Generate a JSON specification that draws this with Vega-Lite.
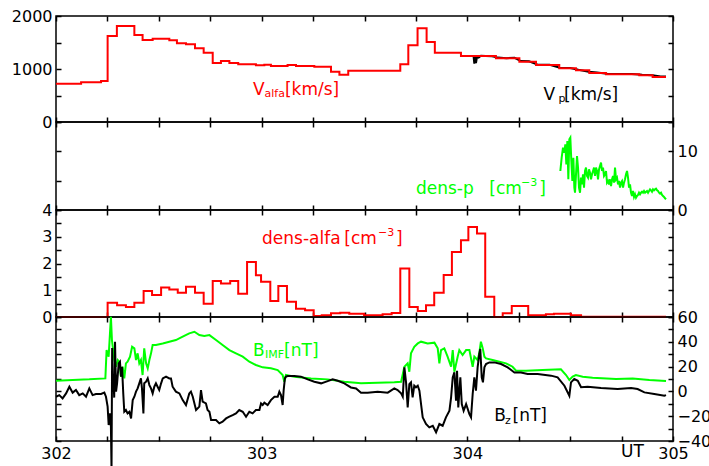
{
  "$schema": "https://vega.github.io/schema/vega-lite/v6.json",
  "background": "white",
  "padding": {"left": 10, "top": 7, "right": 0, "bottom": 0},
  "spacing": 0,
  "bounds": "flush",
  "config": {
    "view": {"stroke": "black", "strokeWidth": 1.5},
    "axis": {
      "domain": false, "grid": false, "title": null,
      "tickColor": "black", "tickWidth": 1.5, "tickSize": -5,
      "labelFont": "DejaVu Sans", "labelFontSize": 16, "labelColor": "black",
      "labelPadding": 9, "labelOverlap": false, "labelFlush": false, "labelBound": false
    },
    "text": {"font": "DejaVu Sans"}
  },
  "datasets": {
    "valfa": [
      {"t":302.000,"v":723},{"t":302.122,"v":752},{"t":302.219,"v":775},{"t":302.251,"v":1623},
      {"t":302.296,"v":1811},{"t":302.381,"v":1642},{"t":302.421,"v":1547},{"t":302.470,"v":1572},
      {"t":302.551,"v":1541},{"t":302.588,"v":1485},{"t":302.632,"v":1466},{"t":302.676,"v":1390},
      {"t":302.718,"v":1308},{"t":302.762,"v":1113},{"t":302.802,"v":1151},{"t":302.843,"v":1113},
      {"t":302.886,"v":1089},{"t":302.972,"v":1070},{"t":303.013,"v":1082},{"t":303.045,"v":1057},
      {"t":303.126,"v":1075},{"t":303.167,"v":1057},{"t":303.256,"v":1044},{"t":303.337,"v":950},
      {"t":303.378,"v":893},{"t":303.421,"v":968},{"t":303.674,"v":1089},{"t":303.713,"v":1447},
      {"t":303.758,"v":1768},{"t":303.802,"v":1510},{"t":303.842,"v":1308},{"t":303.969,"v":1245},
      {"t":304.139,"v":1201},{"t":304.253,"v":1138},{"t":304.334,"v":1075},{"t":304.447,"v":1013},
      {"t":304.528,"v":975},{"t":304.593,"v":925},{"t":304.674,"v":900},{"t":304.836,"v":881},
      {"t":304.901,"v":849},{"t":304.966,"v":849}
    ],
    "vp": [
      {"t":304.030,"v":1250},{"t":304.034,"v":1100},{"t":304.038,"v":1235},{"t":304.042,"v":1110},
      {"t":304.047,"v":1230},{"t":304.055,"v":1215},{"t":304.066,"v":1250},{"t":304.090,"v":1245},
      {"t":304.120,"v":1240},{"t":304.150,"v":1215},{"t":304.190,"v":1205},{"t":304.230,"v":1210},
      {"t":304.260,"v":1150},{"t":304.300,"v":1145},{"t":304.340,"v":1085},{"t":304.400,"v":1080},
      {"t":304.450,"v":1025},{"t":304.500,"v":1020},{"t":304.540,"v":985},{"t":304.590,"v":950},
      {"t":304.630,"v":935},{"t":304.680,"v":910},{"t":304.740,"v":905},{"t":304.800,"v":905},
      {"t":304.850,"v":890},{"t":304.900,"v":880},{"t":304.940,"v":858},{"t":304.966,"v":860}
    ],
    "np": [
      {"t":304.4522,"v":6.65},{"t":304.4587,"v":8.92},{"t":304.4652,"v":10.62},{"t":304.4717,"v":9.77},
      {"t":304.4765,"v":11.19},{"t":304.4814,"v":7.78},{"t":304.4863,"v":11.76},{"t":304.4911,"v":5.23},
      {"t":304.4960,"v":12.04},{"t":304.5008,"v":12.33},{"t":304.5057,"v":8.35},{"t":304.5106,"v":4.94},
      {"t":304.5155,"v":8.92},{"t":304.5203,"v":3.81},{"t":304.5236,"v":2.95},{"t":304.5284,"v":6.08},
      {"t":304.5333,"v":9.20},{"t":304.5382,"v":7.22},{"t":304.5430,"v":3.81},{"t":304.5479,"v":2.95},
      {"t":304.5527,"v":5.51},{"t":304.5576,"v":4.37},{"t":304.5625,"v":6.08},{"t":304.5673,"v":3.81},
      {"t":304.5722,"v":6.65},{"t":304.5770,"v":7.22},{"t":304.5819,"v":5.80},{"t":304.5868,"v":5.51},
      {"t":304.5916,"v":6.93},{"t":304.5965,"v":6.36},{"t":304.6014,"v":5.23},{"t":304.6062,"v":6.08},
      {"t":304.6111,"v":6.65},{"t":304.6160,"v":7.22},{"t":304.6208,"v":5.80},{"t":304.6257,"v":7.22},
      {"t":304.6306,"v":6.65},{"t":304.6354,"v":5.23},{"t":304.6403,"v":6.93},{"t":304.6451,"v":7.50},
      {"t":304.6500,"v":8.07},{"t":304.6549,"v":6.65},{"t":304.6597,"v":7.22},{"t":304.6646,"v":5.80},
      {"t":304.6695,"v":6.08},{"t":304.6743,"v":6.65},{"t":304.6792,"v":4.66},{"t":304.6840,"v":4.94},
      {"t":304.6889,"v":4.37},{"t":304.6938,"v":5.23},{"t":304.6986,"v":4.09},{"t":304.7035,"v":5.23},
      {"t":304.7084,"v":5.80},{"t":304.7132,"v":4.66},{"t":304.7181,"v":7.22},{"t":304.7230,"v":5.23},
      {"t":304.7278,"v":5.51},{"t":304.7327,"v":4.37},{"t":304.7375,"v":4.94},{"t":304.7424,"v":3.81},
      {"t":304.7473,"v":4.66},{"t":304.7521,"v":4.94},{"t":304.7570,"v":3.81},{"t":304.7619,"v":4.66},
      {"t":304.7667,"v":5.23},{"t":304.7716,"v":6.08},{"t":304.7765,"v":6.65},{"t":304.7813,"v":5.51},
      {"t":304.7862,"v":3.81},{"t":304.7910,"v":4.37},{"t":304.7959,"v":2.95},{"t":304.8008,"v":2.39},
      {"t":304.8056,"v":3.24},{"t":304.8105,"v":2.22},{"t":304.8154,"v":2.67},{"t":304.8202,"v":2.10},
      {"t":304.8251,"v":2.39},{"t":304.8300,"v":2.56},{"t":304.8348,"v":2.95},{"t":304.8397,"v":2.67},
      {"t":304.8445,"v":2.95},{"t":304.8494,"v":3.12},{"t":304.8543,"v":2.95},{"t":304.8591,"v":3.24},
      {"t":304.8640,"v":2.95},{"t":304.8689,"v":3.12},{"t":304.8737,"v":3.24},{"t":304.8786,"v":2.95},
      {"t":304.8835,"v":3.24},{"t":304.8883,"v":3.52},{"t":304.8932,"v":3.35},{"t":304.8980,"v":3.12},
      {"t":304.9029,"v":3.52},{"t":304.9078,"v":3.35},{"t":304.9126,"v":3.52},{"t":304.9175,"v":3.64},
      {"t":304.9224,"v":3.35},{"t":304.9272,"v":3.24},{"t":304.9321,"v":2.95},{"t":304.9370,"v":2.78},
      {"t":304.9418,"v":2.95},{"t":304.9467,"v":2.56},{"t":304.9515,"v":2.39},{"t":304.9564,"v":2.22},
      {"t":304.9613,"v":1.99},{"t":304.9661,"v":1.82}
    ],
    "nalfa": [
      {"t":302.000,"v":0},{"t":302.251,"v":0.53},{"t":302.297,"v":0.44},{"t":302.340,"v":0.37},
      {"t":302.381,"v":0.53},{"t":302.426,"v":0.97},{"t":302.467,"v":0.82},{"t":302.511,"v":1.10},
      {"t":302.551,"v":1.03},{"t":302.592,"v":0.91},{"t":302.632,"v":1.13},{"t":302.676,"v":0.91},
      {"t":302.718,"v":0.50},{"t":302.762,"v":1.35},{"t":302.802,"v":1.25},{"t":302.847,"v":1.35},
      {"t":302.886,"v":0.87},{"t":302.929,"v":2.06},{"t":302.972,"v":1.56},{"t":302.997,"v":1.32},
      {"t":303.042,"v":0.60},{"t":303.081,"v":1.16},{"t":303.123,"v":0.57},{"t":303.167,"v":0.31},
      {"t":303.211,"v":0.25},{"t":303.253,"v":0.04},{"t":303.292,"v":0.07},{"t":303.337,"v":0.14},
      {"t":303.382,"v":0.16},{"t":303.426,"v":0.12},{"t":303.498,"v":0.07},{"t":303.588,"v":0.10},
      {"t":303.632,"v":0.15},{"t":303.674,"v":1.81},{"t":303.718,"v":0.37},{"t":303.759,"v":0.22},
      {"t":303.799,"v":0.44},{"t":303.839,"v":0.91},{"t":303.885,"v":1.57},{"t":303.925,"v":2.43},
      {"t":303.969,"v":2.87},{"t":304.005,"v":3.36},{"t":304.047,"v":3.12},{"t":304.087,"v":0.76},
      {"t":304.131,"v":0.0},{"t":304.172,"v":0.14},{"t":304.216,"v":0.41},{"t":304.296,"v":0.07},
      {"t":304.382,"v":0.10},{"t":304.421,"v":0.12},{"t":304.504,"v":0.07},{"t":304.553,"v":0.01},
      {"t":304.966,"v":0.01}
    ],
    "bimf": [
      {"t":302.000,"v":8.6},{"t":302.081,"v":9.2},{"t":302.162,"v":9.7},{"t":302.240,"v":10.5},
      {"t":302.246,"v":33.4},{"t":302.256,"v":28.0},{"t":302.267,"v":60.2},{"t":302.272,"v":41.4},
      {"t":302.284,"v":25.3},{"t":302.292,"v":19.9},{"t":302.300,"v":25.3},{"t":302.308,"v":23.9},
      {"t":302.316,"v":11.9},{"t":302.324,"v":19.9},{"t":302.332,"v":10.5},{"t":302.340,"v":22.6},
      {"t":302.348,"v":23.9},{"t":302.360,"v":28.0},{"t":302.370,"v":36.0},{"t":302.381,"v":34.7},
      {"t":302.389,"v":25.3},{"t":302.397,"v":30.7},{"t":302.405,"v":22.6},{"t":302.413,"v":25.3},
      {"t":302.421,"v":13.2},{"t":302.429,"v":34.7},{"t":302.438,"v":22.6},{"t":302.446,"v":18.6},
      {"t":302.454,"v":25.3},{"t":302.462,"v":30.7},{"t":302.470,"v":37.4},{"t":302.486,"v":37.4},
      {"t":302.519,"v":38.7},{"t":302.551,"v":40.1},{"t":302.583,"v":41.4},{"t":302.616,"v":44.1},
      {"t":302.648,"v":46.8},{"t":302.673,"v":48.1},{"t":302.697,"v":45.4},{"t":302.721,"v":44.6},
      {"t":302.746,"v":45.4},{"t":302.778,"v":41.4},{"t":302.810,"v":37.4},{"t":302.843,"v":33.3},
      {"t":302.875,"v":30.7},{"t":302.908,"v":28.0},{"t":302.940,"v":23.9},{"t":302.972,"v":21.3},
      {"t":303.005,"v":19.4},{"t":303.045,"v":18.6},{"t":303.078,"v":17.2},{"t":303.102,"v":13.2},
      {"t":303.110,"v":7.8},{"t":303.118,"v":13.2},{"t":303.159,"v":11.9},{"t":303.240,"v":10.5},
      {"t":303.321,"v":9.7},{"t":303.402,"v":7.8},{"t":303.483,"v":6.5},{"t":303.564,"v":7.0},
      {"t":303.645,"v":7.3},{"t":303.678,"v":7.8},{"t":303.694,"v":19.9},{"t":303.710,"v":22.6},
      {"t":303.718,"v":15.9},{"t":303.726,"v":30.7},{"t":303.742,"v":36.0},{"t":303.759,"v":38.7},
      {"t":303.775,"v":40.1},{"t":303.807,"v":38.7},{"t":303.840,"v":39.3},{"t":303.856,"v":34.7},
      {"t":303.864,"v":22.6},{"t":303.872,"v":33.3},{"t":303.888,"v":34.7},{"t":303.904,"v":28.0},
      {"t":303.921,"v":19.9},{"t":303.929,"v":33.3},{"t":303.937,"v":15.9},{"t":303.953,"v":28.0},
      {"t":303.961,"v":33.3},{"t":303.977,"v":29.3},{"t":303.994,"v":33.3},{"t":304.010,"v":33.3},
      {"t":304.026,"v":19.9},{"t":304.034,"v":28.0},{"t":304.050,"v":25.3},{"t":304.058,"v":30.7},
      {"t":304.066,"v":40.1},{"t":304.075,"v":34.7},{"t":304.083,"v":28.0},{"t":304.091,"v":26.6},
      {"t":304.123,"v":25.3},{"t":304.156,"v":23.9},{"t":304.188,"v":22.6},{"t":304.220,"v":19.9},
      {"t":304.237,"v":16.7},{"t":304.285,"v":16.7},{"t":304.366,"v":17.2},{"t":304.455,"v":17.8},
      {"t":304.480,"v":13.2},{"t":304.496,"v":9.2},{"t":304.512,"v":11.9},{"t":304.528,"v":13.2},
      {"t":304.561,"v":11.9},{"t":304.609,"v":11.0},{"t":304.723,"v":10.0},{"t":304.804,"v":10.5},
      {"t":304.885,"v":9.2},{"t":304.966,"v":8.4}
    ],
    "bz": [
      {"t":302.000,"v":-4.3},{"t":302.016,"v":-3.0},{"t":302.032,"v":-5.6},{"t":302.049,"v":-1.6},
      {"t":302.065,"v":3.8},{"t":302.081,"v":-1.0},{"t":302.097,"v":1.1},{"t":302.113,"v":-3.0},
      {"t":302.130,"v":-1.6},{"t":302.146,"v":-4.3},{"t":302.162,"v":2.4},{"t":302.178,"v":-3.0},
      {"t":302.194,"v":-2.1},{"t":302.219,"v":-2.1},{"t":302.235,"v":-1.0},{"t":302.243,"v":-4.3},
      {"t":302.251,"v":-12.3},{"t":302.256,"v":-27.1},{"t":302.263,"v":-17.7},{"t":302.267,"v":-28.5},
      {"t":302.270,"v":-63},{"t":302.273,"v":35},{"t":302.276,"v":0},{"t":302.279,"v":11.9},
      {"t":302.283,"v":-5},{"t":302.287,"v":40.1},{"t":302.292,"v":-0.2},{"t":302.297,"v":6.5},
      {"t":302.305,"v":22.6},{"t":302.311,"v":23.9},{"t":302.316,"v":11.9},{"t":302.321,"v":19.9},
      {"t":302.327,"v":-1.6},{"t":302.332,"v":-16.4},{"t":302.340,"v":-15.0},{"t":302.348,"v":-17.7},
      {"t":302.357,"v":-16.4},{"t":302.365,"v":-21.8},{"t":302.373,"v":-7.0},{"t":302.381,"v":-4.3},
      {"t":302.389,"v":-0.2},{"t":302.397,"v":2.4},{"t":302.405,"v":6.5},{"t":302.413,"v":10.5},
      {"t":302.418,"v":2.4},{"t":302.425,"v":-17.7},{"t":302.429,"v":6.5},{"t":302.438,"v":7.8},
      {"t":302.446,"v":10.5},{"t":302.454,"v":5.1},{"t":302.462,"v":2.4},{"t":302.470,"v":-1.6},
      {"t":302.478,"v":3.8},{"t":302.486,"v":6.5},{"t":302.494,"v":3.8},{"t":302.502,"v":1.1},
      {"t":302.511,"v":6.5},{"t":302.519,"v":10.5},{"t":302.535,"v":11.9},{"t":302.551,"v":10.5},
      {"t":302.559,"v":10.5},{"t":302.567,"v":3.8},{"t":302.583,"v":-0.2},{"t":302.600,"v":-1.6},
      {"t":302.616,"v":-7.0},{"t":302.632,"v":-11.0},{"t":302.648,"v":-1.6},{"t":302.656,"v":-0.2},
      {"t":302.665,"v":-4.3},{"t":302.681,"v":-15.0},{"t":302.697,"v":-12.3},{"t":302.705,"v":1.1},
      {"t":302.713,"v":-8.3},{"t":302.729,"v":-9.7},{"t":302.737,"v":-15.0},{"t":302.746,"v":-16.4},
      {"t":302.754,"v":-23.1},{"t":302.778,"v":-23.1},{"t":302.794,"v":-25.8},{"t":302.810,"v":-24.4},
      {"t":302.827,"v":-21.8},{"t":302.843,"v":-20.4},{"t":302.859,"v":-19.1},{"t":302.875,"v":-17.7},
      {"t":302.891,"v":-15.0},{"t":302.908,"v":-16.4},{"t":302.924,"v":-20.4},{"t":302.940,"v":-16.4},
      {"t":302.956,"v":-17.7},{"t":302.972,"v":-15.0},{"t":302.989,"v":-15.0},{"t":302.997,"v":-9.7},
      {"t":303.005,"v":-11.0},{"t":303.013,"v":-9.1},{"t":303.029,"v":-11.0},{"t":303.045,"v":-7.0},
      {"t":303.062,"v":-4.3},{"t":303.078,"v":-4.3},{"t":303.086,"v":-0.2},{"t":303.094,"v":-2.9},
      {"t":303.102,"v":-11.0},{"t":303.107,"v":1.1},{"t":303.113,"v":10.5},{"t":303.118,"v":11.9},
      {"t":303.127,"v":12.4},{"t":303.159,"v":12.4},{"t":303.191,"v":11.9},{"t":303.224,"v":9.7},
      {"t":303.256,"v":7.8},{"t":303.289,"v":6.5},{"t":303.321,"v":8.3},{"t":303.345,"v":9.7},
      {"t":303.370,"v":8.6},{"t":303.402,"v":6.5},{"t":303.434,"v":3.2},{"t":303.459,"v":2.4},
      {"t":303.483,"v":-1.0},{"t":303.515,"v":-1.0},{"t":303.564,"v":-0.2},{"t":303.613,"v":-1.0},
      {"t":303.645,"v":2.4},{"t":303.661,"v":1.1},{"t":303.678,"v":-1.6},{"t":303.686,"v":-4.3},
      {"t":303.694,"v":19.4},{"t":303.702,"v":7.3},{"t":303.710,"v":-12.9},{"t":303.718,"v":5.9},
      {"t":303.726,"v":7.3},{"t":303.734,"v":-4.8},{"t":303.742,"v":4.6},{"t":303.750,"v":3.3},
      {"t":303.759,"v":4.6},{"t":303.767,"v":0.6},{"t":303.775,"v":-10.2},{"t":303.783,"v":-20.9},
      {"t":303.799,"v":-26.3},{"t":303.815,"v":-29.0},{"t":303.832,"v":-27.7},{"t":303.848,"v":-33.0},
      {"t":303.864,"v":-26.3},{"t":303.880,"v":-27.7},{"t":303.896,"v":-20.9},{"t":303.913,"v":-15.6},
      {"t":303.921,"v":-4.8},{"t":303.929,"v":11.3},{"t":303.937,"v":15.3},{"t":303.945,"v":-7.5},
      {"t":303.950,"v":16.7},{"t":303.956,"v":-12.9},{"t":303.966,"v":11.3},{"t":303.973,"v":-10.2},
      {"t":303.982,"v":-15.6},{"t":303.994,"v":-10.2},{"t":304.010,"v":-18.3},{"t":304.018,"v":-20.9},
      {"t":304.026,"v":-2.1},{"t":304.034,"v":11.3},{"t":304.042,"v":0.6},{"t":304.050,"v":19.4},
      {"t":304.058,"v":30.1},{"t":304.063,"v":34.2},{"t":304.070,"v":11.3},{"t":304.076,"v":7.3},
      {"t":304.083,"v":19.4},{"t":304.091,"v":22.1},{"t":304.107,"v":23.4},{"t":304.131,"v":23.4},
      {"t":304.164,"v":22.1},{"t":304.196,"v":19.4},{"t":304.229,"v":15.3},{"t":304.261,"v":15.3},
      {"t":304.293,"v":14.0},{"t":304.342,"v":14.0},{"t":304.407,"v":12.7},{"t":304.439,"v":11.3},
      {"t":304.472,"v":4.6},{"t":304.496,"v":-3.5},{"t":304.504,"v":7.3},{"t":304.520,"v":10.0},
      {"t":304.537,"v":8.6},{"t":304.553,"v":3.3},{"t":304.585,"v":3.8},{"t":304.650,"v":2.7},
      {"t":304.731,"v":1.9},{"t":304.796,"v":2.7},{"t":304.828,"v":1.9},{"t":304.861,"v":-0.8},
      {"t":304.909,"v":-2.1},{"t":304.958,"v":-3.5},{"t":304.966,"v":-3.0}
    ]
  },
  "vconcat": [
    {
      "width": 617, "height": 106,
      "resolve": {"axis": {"x": "independent", "y": "independent"}},
      "layer": [
        {
          "data": {"name": "vp"},
          "mark": {"type": "line", "color": "black", "strokeWidth": 2},
          "encoding": {
            "x": {"field": "t", "type": "quantitative", "scale": {"domain": [302, 305], "nice": false, "zero": false},
                  "axis": {"orient": "bottom", "values": [302,302.25,302.5,302.75,303,303.25,303.5,303.75,304,304.25,304.5,304.75,305], "labels": false}},
            "y": {"field": "v", "type": "quantitative", "scale": {"domain": [0, 2000], "nice": false},
                  "axis": {"orient": "left", "values": [0,500,1000,1500,2000], "labelExpr": "datum.value % 1000 == 0 ? format(datum.value, 'd') : ''"}}
          }
        },
        {
          "data": {"name": "valfa"},
          "mark": {"type": "line", "color": "#ff0000", "strokeWidth": 2, "interpolate": "step-after"},
          "encoding": {
            "x": {"field": "t", "type": "quantitative",
                  "axis": {"orient": "top", "values": [302,302.25,302.5,302.75,303,303.25,303.5,303.75,304,304.25,304.5,304.75,305], "labels": false}},
            "y": {"field": "v", "type": "quantitative",
                  "axis": {"orient": "right", "values": [0,500,1000,1500,2000], "labels": false}}
          }
        },
        {
          "data": {"values": [{"t": 302.958, "v": 509, "s": "V"}, {"t": 303.113, "v": 509, "s": "[km/s]"}]},
          "mark": {"type": "text", "align": "left", "baseline": "alphabetic", "fontSize": 17, "color": "#ff0000"},
          "encoding": {"x": {"field": "t", "type": "quantitative", "axis": null}, "y": {"field": "v", "type": "quantitative", "axis": null}, "text": {"field": "s"}}
        },
        {
          "data": {"values": [{"t": 303.014, "v": 472, "s": "alfa"}]},
          "mark": {"type": "text", "align": "left", "baseline": "alphabetic", "fontSize": 11, "color": "#ff0000"},
          "encoding": {"x": {"field": "t", "type": "quantitative", "axis": null}, "y": {"field": "v", "type": "quantitative", "axis": null}, "text": {"field": "s"}}
        },
        {
          "data": {"values": [{"t": 304.370, "v": 409, "s": "V"}, {"t": 304.470, "v": 409, "s": "[km/s]"}]},
          "mark": {"type": "text", "align": "left", "baseline": "alphabetic", "fontSize": 17, "color": "black"},
          "encoding": {"x": {"field": "t", "type": "quantitative", "axis": null}, "y": {"field": "v", "type": "quantitative", "axis": null}, "text": {"field": "s"}}
        },
        {
          "data": {"values": [{"t": 304.443, "v": 368, "s": "p"}]},
          "mark": {"type": "text", "align": "left", "baseline": "alphabetic", "fontSize": 11, "color": "black"},
          "encoding": {"x": {"field": "t", "type": "quantitative", "axis": null}, "y": {"field": "v", "type": "quantitative", "axis": null}, "text": {"field": "s"}}
        }
      ]
    },
    {
      "width": 617, "height": 88,
      "resolve": {"axis": {"x": "independent", "y": "independent"}},
      "layer": [
        {
          "data": {"name": "np"},
          "mark": {"type": "line", "color": "#00ff00", "strokeWidth": 2},
          "encoding": {
            "x": {"field": "t", "type": "quantitative", "scale": {"domain": [302, 305], "nice": false, "zero": false},
                  "axis": {"orient": "bottom", "values": [302,302.25,302.5,302.75,303,303.25,303.5,303.75,304,304.25,304.5,304.75,305], "labels": false}},
            "y": {"field": "v", "type": "quantitative", "scale": {"domain": [0, 15], "nice": false},
                  "axis": {"orient": "right", "values": [0,5,10,15], "labelExpr": "datum.value == 0 || datum.value == 10 ? format(datum.value, 'd') : ''"}}
          }
        },
        {
          "data": {"values": [{"t": 303.750, "v": 2.73, "s": "dens-p"}, {"t": 304.107, "v": 2.73, "s": "[cm"}, {"t": 304.350, "v": 2.73, "s": "]"}]},
          "mark": {"type": "text", "align": "left", "baseline": "alphabetic", "fontSize": 17, "color": "#00ff00"},
          "encoding": {
            "x": {"field": "t", "type": "quantitative",
                  "axis": {"orient": "top", "values": [302,302.25,302.5,302.75,303,303.25,303.5,303.75,304,304.25,304.5,304.75,305], "labels": false}},
            "y": {"field": "v", "type": "quantitative",
                  "axis": {"orient": "left", "values": [0,5,10,15], "labels": false}},
            "text": {"field": "s"}
          }
        },
        {
          "data": {"values": [{"t": 304.261, "v": 4.09, "s": "−3"}]},
          "mark": {"type": "text", "align": "left", "baseline": "alphabetic", "fontSize": 11, "color": "#00ff00"},
          "encoding": {"x": {"field": "t", "type": "quantitative", "axis": null}, "y": {"field": "v", "type": "quantitative", "axis": null}, "text": {"field": "s"}}
        }
      ]
    },
    {
      "width": 617, "height": 107,
      "resolve": {"axis": {"x": "independent", "y": "independent"}},
      "layer": [
        {
          "data": {"name": "nalfa"},
          "mark": {"type": "line", "color": "#ff0000", "strokeWidth": 2, "interpolate": "step-after"},
          "encoding": {
            "x": {"field": "t", "type": "quantitative", "scale": {"domain": [302, 305], "nice": false, "zero": false},
                  "axis": {"orient": "bottom", "values": [302,302.25,302.5,302.75,303,303.25,303.5,303.75,304,304.25,304.5,304.75,305], "labels": false}},
            "y": {"field": "v", "type": "quantitative", "scale": {"domain": [0, 4], "nice": false},
                  "axis": {"orient": "left", "values": [0,0.5,1,1.5,2,2.5,3,3.5,4], "labelExpr": "datum.value % 1 == 0 ? format(datum.value, 'd') : ''"}}
          }
        },
        {
          "data": {"values": [{"t": 303.002, "v": 2.74, "s": "dens-alfa"}, {"t": 303.402, "v": 2.74, "s": "[cm"}, {"t": 303.653, "v": 2.74, "s": "]"}]},
          "mark": {"type": "text", "align": "left", "baseline": "alphabetic", "fontSize": 17, "color": "#ff0000"},
          "encoding": {
            "x": {"field": "t", "type": "quantitative",
                  "axis": {"orient": "top", "values": [302,302.25,302.5,302.75,303,303.25,303.5,303.75,304,304.25,304.5,304.75,305], "labels": false}},
            "y": {"field": "v", "type": "quantitative",
                  "axis": {"orient": "right", "values": [0,0.5,1,1.5,2,2.5,3,3.5,4], "labels": false}},
            "text": {"field": "s"}
          }
        },
        {
          "data": {"values": [{"t": 303.566, "v": 3.03, "s": "−3"}]},
          "mark": {"type": "text", "align": "left", "baseline": "alphabetic", "fontSize": 11, "color": "#ff0000"},
          "encoding": {"x": {"field": "t", "type": "quantitative", "axis": null}, "y": {"field": "v", "type": "quantitative", "axis": null}, "text": {"field": "s"}}
        }
      ]
    },
    {
      "width": 617, "height": 124,
      "resolve": {"axis": {"x": "independent", "y": "independent"}},
      "layer": [
        {
          "mark": {"type": "rule", "color": "#80ff80", "strokeWidth": 2},
          "encoding": {
            "y": {"datum": 0, "type": "quantitative", "scale": {"domain": [-40, 60], "nice": false},
                  "axis": {"orient": "left", "values": [-40,-30,-20,-10,0,10,20,30,40,50,60], "labels": false}}
          }
        },
        {
          "data": {"name": "bimf"},
          "mark": {"type": "line", "color": "#00ff00", "strokeWidth": 2},
          "encoding": {
            "x": {"field": "t", "type": "quantitative", "scale": {"domain": [302, 305], "nice": false, "zero": false},
                  "axis": {"orient": "bottom", "values": [302,302.25,302.5,302.75,303,303.25,303.5,303.75,304,304.25,304.5,304.75,305],
                           "labelExpr": "datum.value % 1 == 0 ? format(datum.value, 'd') : ''"}},
            "y": {"field": "v", "type": "quantitative",
                  "axis": {"orient": "right", "values": [-40,-30,-20,-10,0,10,20,30,40,50,60], "labelExpr": "datum.value % 20 == 0 ? datum.label : ''"}}
          }
        },
        {
          "data": {"name": "bz"},
          "mark": {"type": "line", "color": "black", "strokeWidth": 2},
          "encoding": {
            "x": {"field": "t", "type": "quantitative",
                  "axis": {"orient": "top", "values": [302,302.25,302.5,302.75,303,303.25,303.5,303.75,304,304.25,304.5,304.75,305], "labels": false}},
            "y": {"field": "v", "type": "quantitative", "axis": null}
          }
        },
        {
          "data": {"values": [{"t": 302.958, "v": 28.8, "s": "B"}, {"t": 303.109, "v": 28.8, "s": "[nT]"}]},
          "mark": {"type": "text", "align": "left", "baseline": "alphabetic", "fontSize": 17, "color": "#00ff00"},
          "encoding": {"x": {"field": "t", "type": "quantitative", "axis": null}, "y": {"field": "v", "type": "quantitative", "axis": null}, "text": {"field": "s"}}
        },
        {
          "data": {"values": [{"t": 303.016, "v": 26.8, "s": "IMF"}]},
          "mark": {"type": "text", "align": "left", "baseline": "alphabetic", "fontSize": 11, "color": "#00ff00"},
          "encoding": {"x": {"field": "t", "type": "quantitative", "axis": null}, "y": {"field": "v", "type": "quantitative", "axis": null}, "text": {"field": "s"}}
        },
        {
          "data": {"values": [{"t": 304.131, "v": -23.6, "s": "B"}, {"t": 304.220, "v": -23.6, "s": "[nT]"}, {"t": 304.747, "v": -53.2, "s": "UT"}]},
          "mark": {"type": "text", "align": "left", "baseline": "alphabetic", "fontSize": 17, "color": "black"},
          "encoding": {"x": {"field": "t", "type": "quantitative", "axis": null}, "y": {"field": "v", "type": "quantitative", "axis": null}, "text": {"field": "s"}}
        },
        {
          "data": {"values": [{"t": 304.183, "v": -26.0, "s": "z"}]},
          "mark": {"type": "text", "align": "left", "baseline": "alphabetic", "fontSize": 11, "color": "black"},
          "encoding": {"x": {"field": "t", "type": "quantitative", "axis": null}, "y": {"field": "v", "type": "quantitative", "axis": null}, "text": {"field": "s"}}
        }
      ]
    }
  ]
}
